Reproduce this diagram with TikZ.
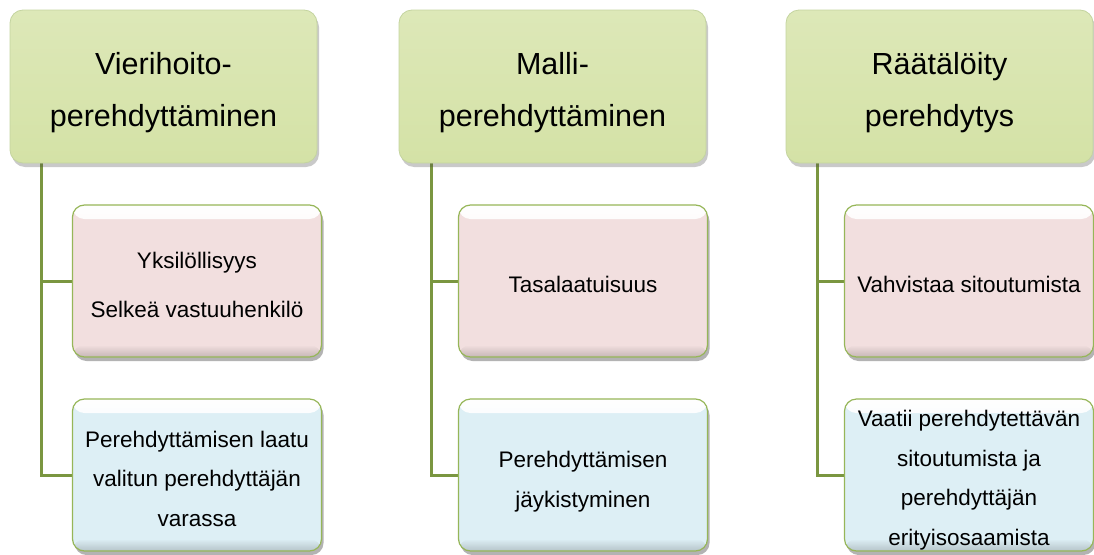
\documentclass[tikz,border=0pt]{standalone}
\usepackage{fontspec}
\setmainfont{Liberation Sans}
\usetikzlibrary{shadows,backgrounds,fadings}
\definecolor{topfill}{RGB}{212,226,166}
\definecolor{toptop}{RGB}{221,232,184}
\definecolor{topedge}{RGB}{196,212,160}
\definecolor{pinkfill}{RGB}{242,223,223}
\definecolor{bluefill}{RGB}{221,239,245}
\definecolor{childedge}{RGB}{150,182,88}
\definecolor{connclr}{RGB}{122,150,64}
\tikzfading[name=fadedown, top color=transparent!0, bottom color=transparent!100]
\tikzfading[name=fadeup, top color=transparent!100, bottom color=transparent!0]
\newcommand{\toplift}{\rule{0pt}{35pt}}
\newcommand{\kidlift}{\rule{0pt}{24pt}}
\tikzset{
  topbox/.style={draw=topedge, line width=0.8pt, rounded corners=13pt,
    top color=toptop, bottom color=topfill,
    minimum width=307pt, minimum height=153pt, inner sep=0pt,
    align=center, font=\fontsize{30.5}{52}\selectfont,
    drop shadow={shadow xshift=2pt, shadow yshift=-4pt, opacity=0.3, fill=black!70}},
  childbox/.style={draw=childedge, line width=1.2pt, rounded corners=12pt,
    minimum width=249pt, minimum height=152pt, inner sep=0pt,
    align=center, font=\fontsize{22.5}{39.5}\selectfont,
    drop shadow={shadow xshift=2pt, shadow yshift=-4pt, opacity=0.4, fill=black!75},
    path picture={
      \fill[white, path fading=fadedown]
        (path picture bounding box.north west) rectangle
        ([yshift=-14pt]path picture bounding box.north east);
      \fill[black, opacity=0.18, path fading=fadeup]
        ([yshift=12pt]path picture bounding box.south west) rectangle
        (path picture bounding box.south east);
    }},
  pinkbox/.style={childbox, fill=pinkfill},
  bluebox/.style={childbox, fill=bluefill},
  conn/.style={draw=connclr, line width=3pt}
}
\begin{document}
\begin{tikzpicture}[x=1pt,y=-1pt]
\useasboundingbox (0,0) rectangle (1094,554);
% top boxes
\node[topbox] (t1) at (163.5,86.5) {\toplift Vierihoito-\\perehdyttäminen};
\node[topbox] (t2) at (552.5,86.5) {\toplift Malli-\\perehdyttäminen};
\node[topbox] (t3) at (939.5,86.5) {\toplift Räätälöity\\perehdytys};
% children
\node[pinkbox] (c11) at (197,281) {\kidlift Yksilöllisyys\\[9pt]Selkeä vastuuhenkilö};
\node[bluebox] (c12) at (197,475) {\kidlift Perehdyttämisen laatu\\valitun perehdyttäjän\\varassa};
\node[pinkbox] (c21) at (583,281) {\kidlift Tasalaatuisuus};
\node[bluebox] (c22) at (583,475) {\rule{0pt}{30pt}Perehdyttämisen\\jäykistyminen};
\node[pinkbox] (c31) at (969,281) {\kidlift Vahvistaa sitoutumista};
\node[bluebox] (c32) at (969,475) {\rule{0pt}{27pt}Vaatii perehdytettävän\\sitoutumista ja\\perehdyttäjän\\erityisosaamista};
% connectors
\begin{scope}[on background layer]
\draw[conn] ([xshift=32pt]t1.south west) |- (c11.west);
\draw[conn] ([xshift=32pt]t1.south west) |- (c12.west);
\draw[conn] ([xshift=33pt]t2.south west) |- (c21.west);
\draw[conn] ([xshift=33pt]t2.south west) |- (c22.west);
\draw[conn] ([xshift=32pt]t3.south west) |- (c31.west);
\draw[conn] ([xshift=32pt]t3.south west) |- (c32.west);
\end{scope}
\end{tikzpicture}
\end{document}
